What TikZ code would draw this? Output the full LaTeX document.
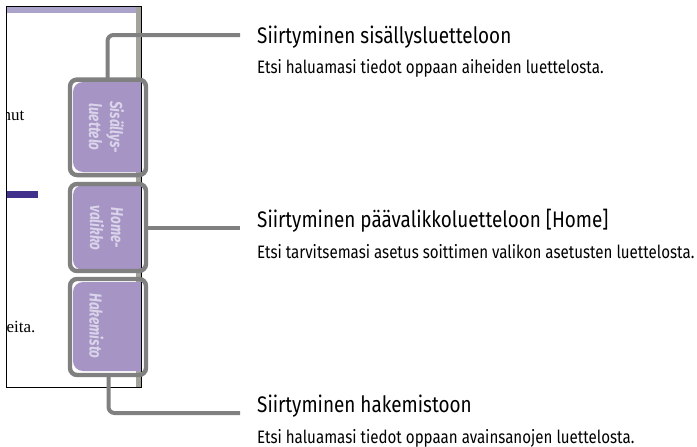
\documentclass[tikz,border=0pt]{standalone}
\usepackage{fontspec}
\setmainfont{Liberation Serif}
\newfontfamily\headfont[FakeStretch=0.84]{Fira Sans}
\newfontfamily\tabfont[FakeStretch=0.78,BoldItalicFont={Fira Sans Bold Italic}]{Fira Sans}
\definecolor{tabpurple}{HTML}{A594C4}
\definecolor{tablabel}{HTML}{DAD4EA}
\definecolor{barlight}{HTML}{ABA3C9}
\definecolor{bardark}{HTML}{41308C}
\definecolor{stripgrey}{HTML}{A3A39C}
\definecolor{linegrey}{HTML}{808080}
\tikzset{
  frameline/.style={draw=black,line width=0.9pt},
  outlinebox/.style={draw=linegrey,line width=4.4pt,rounded corners=7pt,inner sep=0pt,minimum width=76pt},
  callout/.style={draw=linegrey,line width=4pt,rounded corners=6pt},
  tablabeltext/.style={text=tablabel,rotate=-90,align=center,font=\tabfont\bfseries\itshape\fontsize{17.3}{21}\selectfont,inner sep=0pt},
  headtext/.style={anchor=base west,inner sep=0pt,font=\headfont\fontsize{22.5}{26}\selectfont},
  subtext/.style={anchor=base west,inner sep=0pt,font=\headfont\fontsize{18}{21}\selectfont},
  pagetext/.style={anchor=base east,inner sep=0pt,font=\fontsize{17}{20}\selectfont},
  tabfill/.style={fill=tabpurple,rounded corners=10pt}
}
\newcommand{\tabshape}[2]{\fill[tabfill] (141,#1) -- (73,#1) -- (73,#2) [sharp corners] -- (141,#2) -- cycle;}
\begin{document}
\begin{tikzpicture}[x=1pt,y=-1pt]
\useasboundingbox (0,0) rectangle (697,447);
% page
\fill[white] (0,0) rectangle (697,447);
\fill[barlight] (7,7) rectangle (136,13);
\fill[stripgrey] (136,7) rectangle (141,387);
\fill[bardark] (7,190.5) rectangle (38,197.5);
\begin{scope}
\clip (7,7) rectangle (141,387);
\node[pagetext] (frag1) at (24.5,120) {nut};
\node[pagetext] (frag2) at (35.5,332) {eita.};
\end{scope}
\tabshape{82}{172}
\tabshape{185}{270}
\tabshape{282}{371}
\draw[frameline] (6.5,6.5) rectangle (141.5,387);
% labels
\node[tablabeltext] (lab1) at (106.5,127) {Sisällys-\\luettelo};
\node[tablabeltext] (lab2) at (106.5,228) {Home-\\valikko};
\node[tablabeltext] (lab3) at (96.5,326) {Hakemisto};
% outlines
\node[outlinebox,minimum height=95.5pt] (box1) at (108,127.3) {};
\node[outlinebox,minimum height=87pt] (box2) at (108,227.5) {};
\node[outlinebox,minimum height=96pt] (box3) at (108,327) {};
% texts
\node[headtext] (h1) at (257,43) {Siirtyminen sisällysluetteloon};
\node[subtext] (s1) at (257,73.5) {Etsi haluamasi tiedot oppaan aiheiden luettelosta.};
\node[headtext] (h2) at (257,227) {Siirtyminen päävalikkoluetteloon [Home]};
\node[subtext] (s2) at (257,258) {Etsi tarvitsemasi asetus soittimen valikon asetusten luettelosta.};
\node[headtext] (h3) at (257,412) {Siirtyminen hakemistoon};
\node[subtext] (s3) at (257,443) {Etsi haluamasi tiedot oppaan avainsanojen luettelosta.};
% connectors
\coordinate (end1) at (240,35);
\coordinate (end2) at (240,226.5);
\coordinate (end3) at (240,413);
\coordinate (start1) at (107.5,79.5);
\coordinate (start3) at (108.5,375);
\draw[callout] (start1) |- (end1);
\draw[callout] (box2.east) -- (box2.east -| end2);
\draw[callout] (start3) |- (end3);
\end{tikzpicture}
\end{document}
